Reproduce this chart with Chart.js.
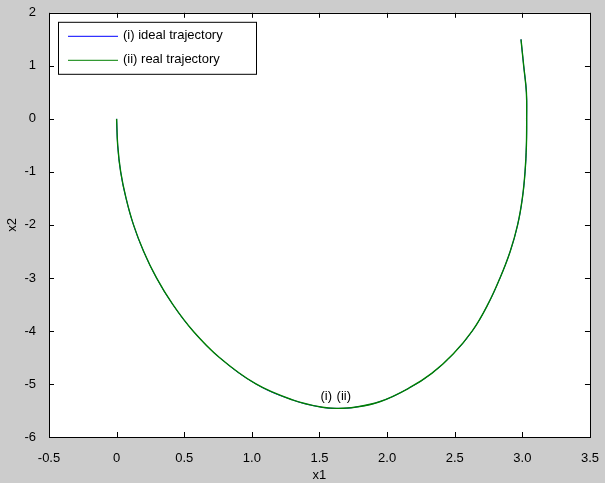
<!DOCTYPE html>
<html>
<head>
<meta charset="utf-8">
<script src="https://cdn.jsdelivr.net/npm/chart.js@4.4.0/dist/chart.umd.min.js"></script>
<style>
  html, body { margin: 0; padding: 0; background: #cccccc; }
  #wrap { width: 605px; height: 483px; }
</style>
</head>
<body>
<div id="wrap"><canvas id="myChart" width="605" height="483"></canvas></div>
<script>
// trajectory points
const x1Ideal = [0, 0.008, 0.03, 0.07, 0.125, 0.20, 0.295, 0.415, 0.565, 0.76, 1.03, 1.30, 1.52, 1.64, 1.76, 1.95, 2.16, 2.33, 2.49, 2.63, 2.745, 2.835, 2.91, 2.965, 3.0, 3.02, 3.03, 3.032, 3.03, 3.01, 2.99];
const x2Ideal = [0, -0.5, -1.0, -1.5, -2.0, -2.5, -3.0, -3.5, -4.0, -4.5, -5.0, -5.3, -5.44, -5.46, -5.44, -5.33, -5.08, -4.80, -4.43, -4.0, -3.5, -3.0, -2.5, -2.0, -1.5, -1.0, -0.5, 0, 0.5, 1.0, 1.5];
const x1Real = [0, 0.008, 0.03, 0.07, 0.125, 0.20, 0.295, 0.415, 0.565, 0.76, 1.03, 1.30, 1.52, 1.64, 1.76, 1.95, 2.16, 2.33, 2.49, 2.63, 2.745, 2.835, 2.91, 2.965, 3.0, 3.02, 3.03, 3.032, 3.03, 3.01, 2.99];
const x2Real = [0, -0.5, -1.0, -1.5, -2.0, -2.5, -3.0, -3.5, -4.0, -4.5, -5.0, -5.3, -5.44, -5.46, -5.44, -5.33, -5.08, -4.80, -4.43, -4.0, -3.5, -3.0, -2.5, -2.0, -1.5, -1.0, -0.5, 0, 0.5, 1.0, 1.5];

const seriesNames = ["(i) ideal trajectory", "(ii) real trajectory"];
const xTicks = [-0.5, 0, 0.5, 1, 1.5, 2, 2.5, 3, 3.5];
const yTicks = [-6, -5, -4, -3, -2, -1, 0, 1, 2];

// text marks on the curve
const noteText = ["(i)", "(ii)"];
const noteX = [1.55, 1.68];
const noteY = [-5.24, -5.24];

const FONT = "'Liberation Sans', Arial, sans-serif";

const toPts = (xs, ys) => xs.map((v, i) => ({ x: v, y: ys[i] }));

// grey figure, white axes, box + inward ticks, notes, legend
const matlabLook = {
  id: 'matlabLook',
  beforeDraw(chart) {
    const { ctx, chartArea: a } = chart;
    ctx.save();
    ctx.fillStyle = '#cccccc';
    ctx.fillRect(0, 0, chart.width, chart.height);
    ctx.fillStyle = '#ffffff';
    ctx.fillRect(a.left, a.top, a.right - a.left, a.bottom - a.top);
    ctx.restore();
  },
  afterDraw(chart) {
    const { ctx, chartArea: a, scales } = chart;
    const sx = scales.x, sy = scales.y;
    ctx.save();
    ctx.strokeStyle = '#000000';
    ctx.lineWidth = 1;
    ctx.beginPath();
    xTicks.forEach(t => {
      const px = Math.round(sx.getPixelForValue(t)) + 0.5;
      ctx.moveTo(px, a.bottom); ctx.lineTo(px, a.bottom - 5);
      ctx.moveTo(px, a.top); ctx.lineTo(px, a.top + 5);
    });
    yTicks.forEach(t => {
      const py = Math.round(sy.getPixelForValue(t)) + 0.5;
      ctx.moveTo(a.left, py); ctx.lineTo(a.left + 5, py);
      ctx.moveTo(a.right, py); ctx.lineTo(a.right - 5, py);
    });
    ctx.stroke();
    ctx.strokeRect(Math.round(a.left) + 0.5, Math.round(a.top) + 0.5,
      Math.round(a.right - a.left), Math.round(a.bottom - a.top));

    // notes
    ctx.fillStyle = '#000000';
    ctx.font = '13px ' + FONT;
    ctx.textAlign = 'center';
    ctx.textBaseline = 'middle';
    noteText.forEach((s, i) => {
      ctx.fillText(s, sx.getPixelForValue(noteX[i]), sy.getPixelForValue(noteY[i]));
    });

    // legend box
    const lx = a.left + 9, ly = a.top + 9, lw = 198, lh = 52;
    ctx.fillStyle = '#ffffff';
    ctx.fillRect(lx, ly, lw, lh);
    ctx.strokeStyle = '#000000';
    ctx.strokeRect(lx + 0.5, ly + 0.5, lw, lh);
    ctx.textAlign = 'left';
    chart.data.datasets.forEach((ds, i) => {
      const yy = ly + 14 + i * 24;
      ctx.strokeStyle = ds.borderColor;
      ctx.beginPath();
      ctx.moveTo(lx + 10, yy + 0.5); ctx.lineTo(lx + 60, yy + 0.5);
      ctx.stroke();
      ctx.fillStyle = '#000000';
      ctx.fillText(ds.label, lx + 65, yy);
    });
    ctx.restore();
  }
};

const ctx = document.getElementById("myChart").getContext("2d");

const config = {
  type: 'scatter',
  data: {
    datasets: [
      {
        label: seriesNames[0],
        data: toPts(x1Ideal, x2Ideal),
        showLine: true,
        borderColor: '#0000ff',
        borderWidth: 1,
        pointRadius: 0,
        tension: 0.4,
        order: 2
      },
      {
        label: seriesNames[1],
        data: toPts(x1Real, x2Real),
        showLine: true,
        borderColor: '#008000',
        borderWidth: 1.4,
        pointRadius: 0,
        tension: 0.4,
        order: 1
      }
    ]
  },
  options: {
    responsive: false,
    animation: false,
    layout: { padding: { top: 10, right: 13, bottom: 0, left: 0 } },
    plugins: {
      legend: { display: false },
      tooltip: { enabled: false }
    },
    scales: {
      x: {
        type: 'linear',
        min: -0.5, max: 3.5,
        afterBuildTicks: s => { s.ticks = xTicks.map(v => ({ value: v })); },
        afterFit: s => { s.height = 46; },
        grid: { display: false },
        border: { display: false },
        ticks: { color: '#000', padding: 6, font: { family: FONT, size: 13 }, maxRotation: 0, autoSkip: false },
        title: { display: true, text: 'x1', color: '#000', padding: { top: 0, bottom: 0 }, font: { family: FONT, size: 13 } }
      },
      y: {
        type: 'linear',
        min: -6, max: 2,
        afterBuildTicks: s => { s.ticks = yTicks.map(v => ({ value: v })); },
        afterFit: s => { s.width = 49; },
        grid: { display: false },
        border: { display: false },
        ticks: { color: '#000', padding: 5, font: { family: FONT, size: 13 }, autoSkip: false },
        title: { display: true, text: 'x2', color: '#000', padding: { top: 5, bottom: 0 }, font: { family: FONT, size: 13 } }
      }
    }
  },
  plugins: [matlabLook]
};

const myChart = new Chart(ctx, config);
</script>
</body>
</html>
